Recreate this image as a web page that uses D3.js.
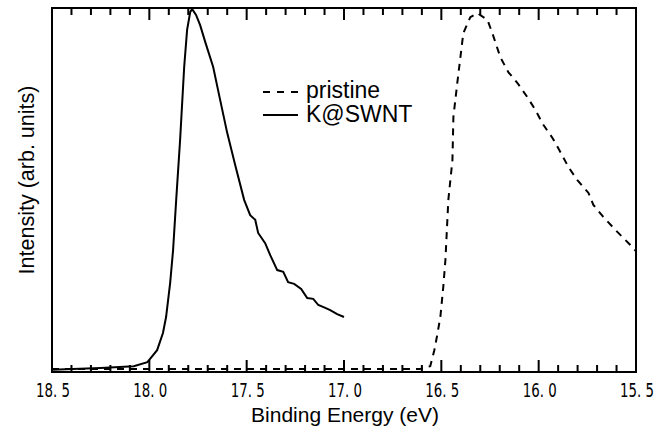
<!DOCTYPE html>
<html>
<head>
<meta charset="utf-8">
<script src="https://cdn.jsdelivr.net/npm/d3@7"></script>
<style>
  body { margin: 0; background: #fff; }
  svg { display: block; }
</style>
</head>
<body>
<div id="chart"></div>
<script>
// binding energy (eV) and intensity (arb., 0..100)
const kswntEnergy = [18.5, 18.25, 18.08, 18.01, 17.96, 17.93, 17.914, 17.893, 17.878, 17.862, 17.842, 17.821, 17.806, 17.79, 17.78,
  17.76, 17.739, 17.713, 17.672, 17.636, 17.6, 17.559, 17.513, 17.482, 17.456, 17.441, 17.405, 17.379, 17.343, 17.312,
  17.287, 17.256, 17.22, 17.189, 17.158, 17.132, 17.096, 17.071, 17.035, 17.0];
const kswntIntensity = [0.6, 1.1, 1.6, 2.7, 6.0, 10.7, 15.1, 24.5, 33.5, 47.3, 63.7, 83.8, 94.0, 98.9, 99.7,
  98.1, 95.3, 90.7, 83.8, 74.7, 65.7, 56.9, 47.3, 43.1, 41.8, 38.2, 35.4, 32.1, 28.0, 27.5,
  24.7, 24.2, 22.8, 20.3, 20.1, 18.4, 17.6, 17.0, 15.9, 15.1];

const pristineEnergy = [18.5, 17.74, 16.61, 16.557, 16.536, 16.521, 16.505, 16.49, 16.479, 16.464, 16.443, 16.438, 16.418, 16.402,
  16.387, 16.351, 16.315, 16.263, 16.238, 16.197, 16.156, 16.109, 16.058, 16.017, 15.976, 15.929, 15.888, 15.847,
  15.801, 15.744, 15.719, 15.668, 15.596, 15.529, 15.5];
const pristineIntensity = [0.8, 0.8, 0.8, 1.6, 6.0, 10.2, 15.1, 23.4, 30.8, 47.3, 58.2, 70.1, 79.4, 86.5,
  93.1, 97.5, 98.6, 96.7, 93.1, 86.5, 82.4, 79.4, 75.5, 72.0, 67.9, 64.3, 60.4, 56.3,
  52.7, 49.2, 45.9, 42.6, 38.5, 34.9, 33.2];

const majorTicks = [18.5, 18.0, 17.5, 17.0, 16.5, 16.0, 15.5];
const tickLabels = ["18. 5", "18. 0", "17. 5", "17. 0", "16. 5", "16. 0", "15. 5"];
const legendNames = ["pristine", "K@SWNT"];

const mLeft = 52, mRight = 636, mTop = 8, mBottom = 372;

const x = d3.scaleLinear().domain([18.5, 15.5]).range([mLeft, mRight]);
const y = d3.scaleLinear().domain([0, 100]).range([mBottom, mTop]);

const svg = d3.select("#chart").append("svg")
  .attr("width", 665).attr("height", 430);

const minorTicks = d3.range(0, 31).map(i => 18.5 - i * 0.1)
  .filter(v => !majorTicks.some(m => Math.abs(m - v) < 1e-6));

// frame as four thin filled bars
const frame = svg.append("g").attr("fill", "#000");
frame.append("rect").attr("x", mLeft - 1).attr("y", mTop - 1).attr("width", mRight - mLeft + 2).attr("height", 2);
frame.append("rect").attr("x", mLeft - 1).attr("y", mBottom - 1).attr("width", mRight - mLeft + 2).attr("height", 2);
frame.append("rect").attr("x", mLeft - 1).attr("y", mTop - 1).attr("width", 2).attr("height", mBottom - mTop + 2);
frame.append("rect").attr("x", mRight - 1).attr("y", mTop - 1).attr("width", 2).attr("height", mBottom - mTop + 2);

// inward ticks on bottom and top edges
const tickData = majorTicks.map(v => ({v, len: 12})).concat(minorTicks.map(v => ({v, len: 7})));
frame.selectAll("rect.tb").data(tickData).enter().append("rect")
  .attr("class", "tb")
  .attr("x", d => x(d.v) - 1).attr("y", d => mBottom - d.len)
  .attr("width", 2).attr("height", d => d.len);
frame.selectAll("rect.tt").data(tickData).enter().append("rect")
  .attr("class", "tt")
  .attr("x", d => x(d.v) - 1).attr("y", mTop)
  .attr("width", 2).attr("height", d => d.len);

const line = d3.line().x(d => x(d[0])).y(d => y(d[1]));

svg.append("path")
  .datum(pristineEnergy.map((e, i) => [e, pristineIntensity[i]]))
  .attr("d", line)
  .attr("fill", "none").attr("stroke", "#000").attr("stroke-width", 2)
  .attr("stroke-dasharray", "7,6");

svg.append("path")
  .datum(kswntEnergy.map((e, i) => [e, kswntIntensity[i]]))
  .attr("d", line)
  .attr("fill", "none").attr("stroke", "#000").attr("stroke-width", 2);

svg.append("g").selectAll("text").data(majorTicks).enter().append("text")
  .attr("x", d => x(d) + 1).attr("y", 397)
  .attr("text-anchor", "middle")
  .attr("textLength", 34).attr("lengthAdjust", "spacingAndGlyphs")
  .style("font-family", "'DejaVu Sans', sans-serif")
  .style("font-size", "20px")
  .text((d, i) => tickLabels[i]);

// legend
const legend = svg.append("g").attr("transform", "translate(263,92)")
  .style("font-family", "Arial, 'Liberation Sans', sans-serif");
legend.append("path").attr("d", "M0,0H35")
  .attr("stroke", "#000").attr("stroke-width", 2).attr("stroke-dasharray", "7,7");
legend.append("path").attr("d", "M0,23H35")
  .attr("stroke", "#000").attr("stroke-width", 2);
legend.selectAll("text").data(legendNames).enter().append("text")
  .attr("x", 43).attr("y", (d, i) => 6 + i * 24)
  .style("font-size", "23px").text(d => d);

// axis titles
svg.append("text")
  .attr("x", 345).attr("y", 422)
  .attr("text-anchor", "middle")
  .style("font-family", "Arial, 'Liberation Sans', sans-serif").style("font-size", "21px")
  .text("Binding Energy (eV)");

svg.append("text")
  .attr("transform", "translate(33.5,180) rotate(-90)")
  .attr("text-anchor", "middle")
  .style("font-family", "Arial, 'Liberation Sans', sans-serif").style("font-size", "21.5px")
  .text("Intensity (arb. units)");
</script>
</body>
</html>
